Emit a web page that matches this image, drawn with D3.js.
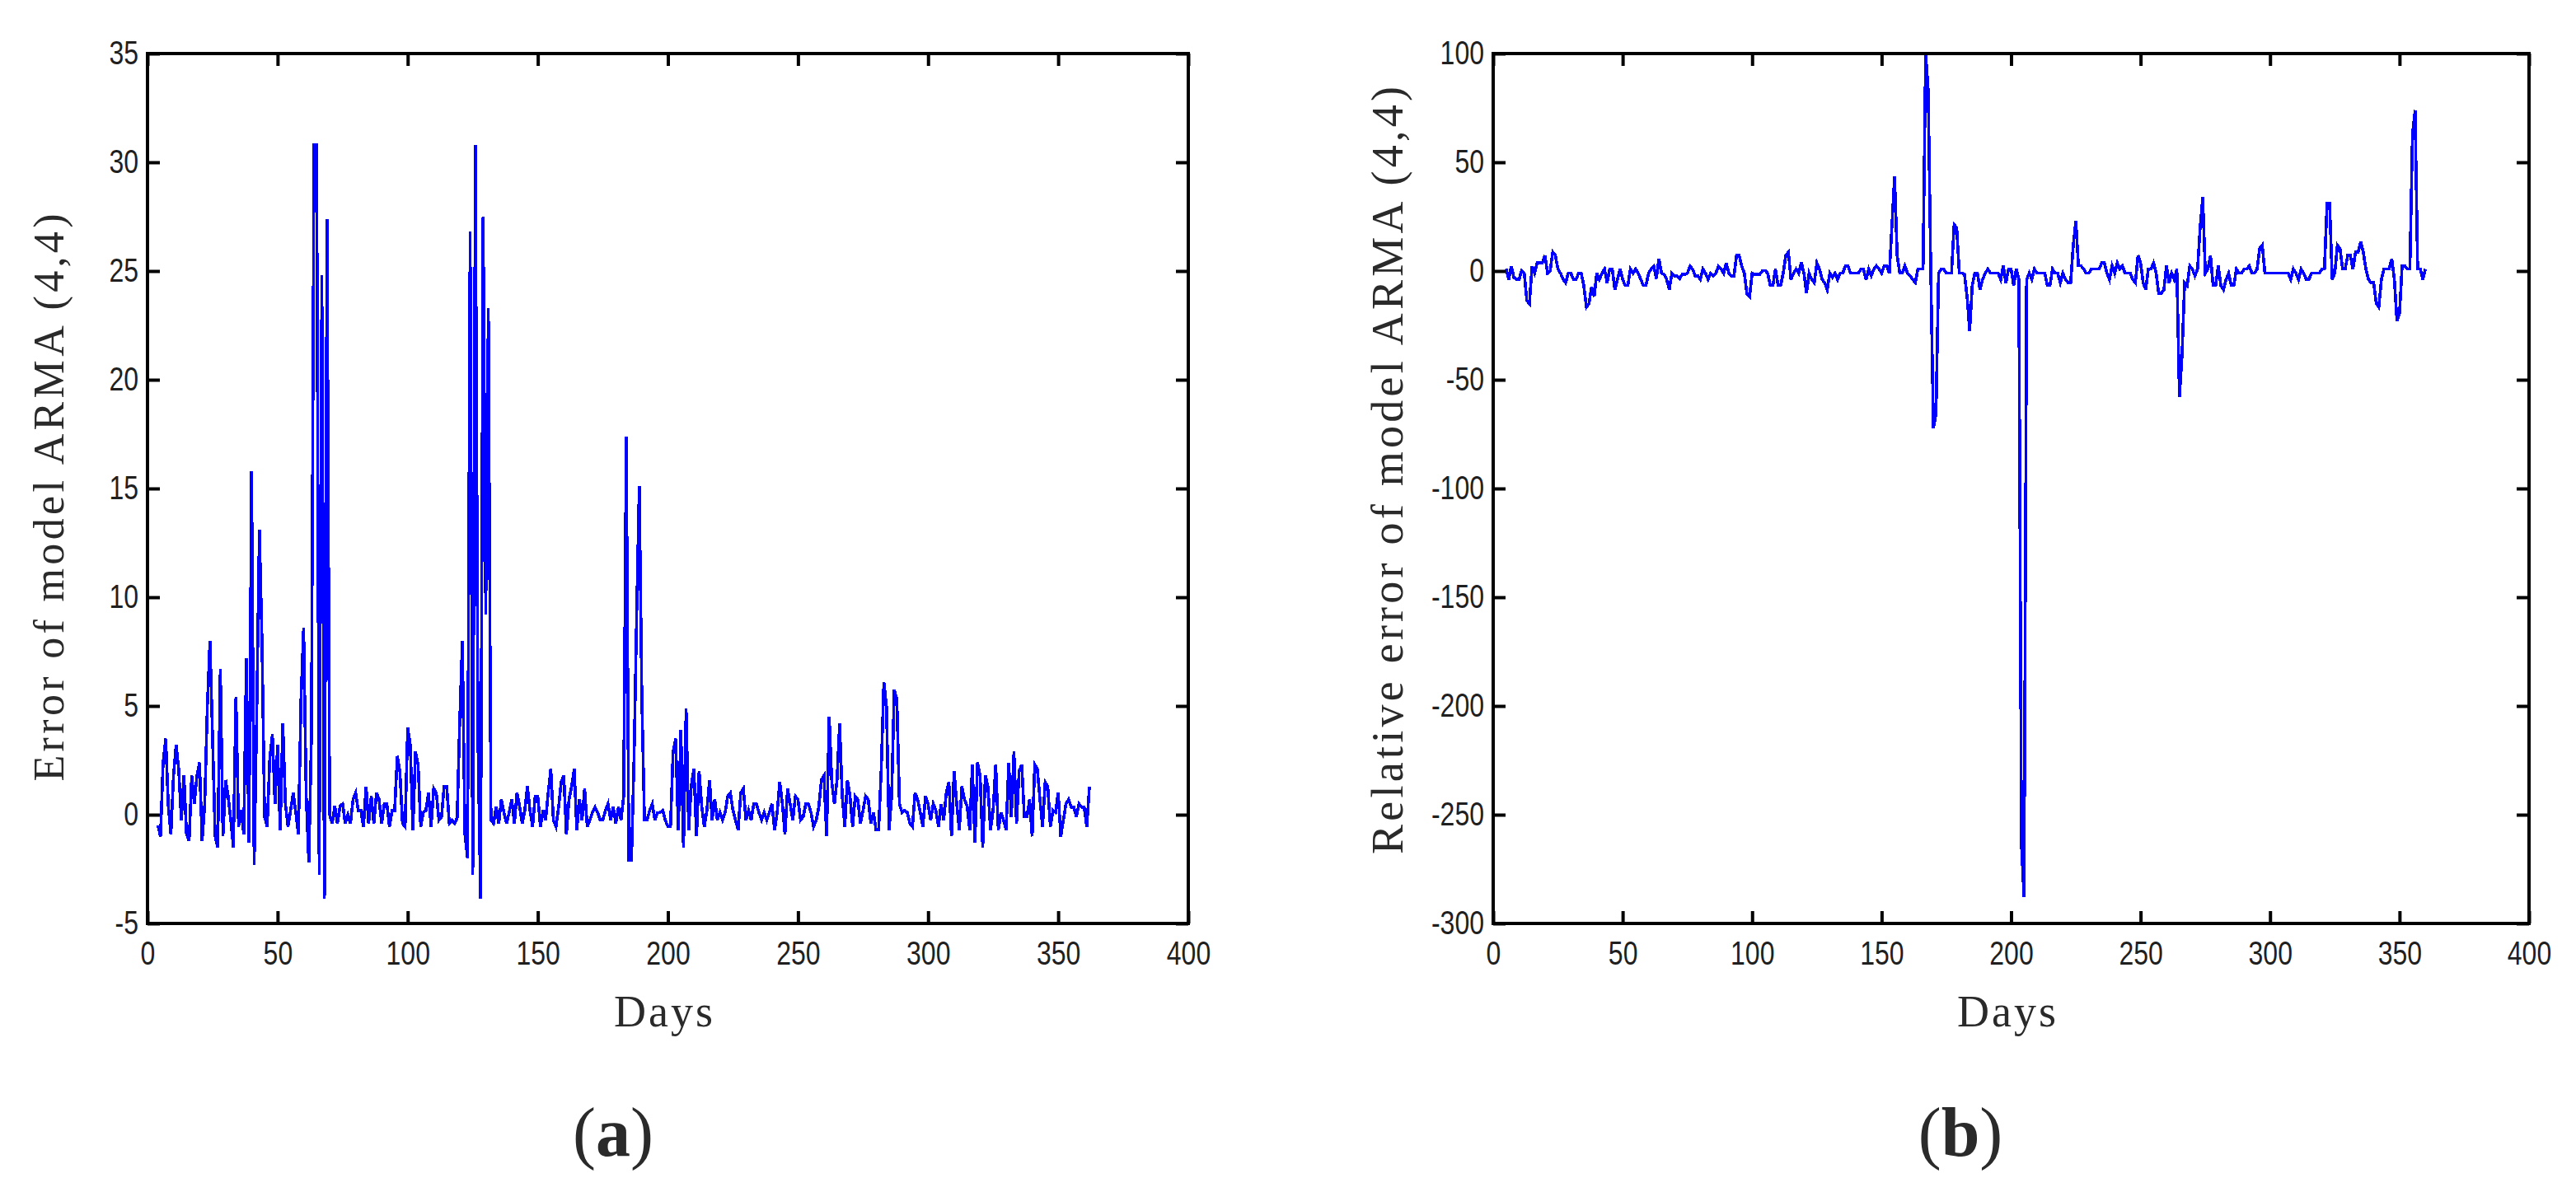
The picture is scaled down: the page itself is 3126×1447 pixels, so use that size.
<!DOCTYPE html>
<meta charset="utf-8">
<style>
  body { margin: 0; background: #fff; }
  svg { display: block; }
  .tick text { font-family: "Liberation Sans", Arial, sans-serif; font-size: 40px; fill: #1f1f1f; }
  .tick line { stroke: #000; stroke-width: 4; }
  .lbl { font-family: "Liberation Serif", "Times New Roman", serif; fill: #2a2a2a; }
</style>
<svg width="3126" height="1447"></svg>
<script src="https://d3js.org/d3.v7.min.js"></script>
<script>

// (a) error of model ARMA(4,4), one value per day starting at day 4
var errorStart = 4;
var errorValues = [
  -0.5, -1.0, 2.4, 3.5, 0.4, -0.9, 1.8, 3.2, 2.1, -0.25,
  1.8, -0.9, -1.2, 1.8, 0.5, 1.8, 2.4, -1.2, 0.5, 5.0,
  8.0, 3.6, -1.0, -1.5, 6.7, -1.0, 1.6, 0.85, -0.25, -1.5,
  5.4, -0.55, 0.2, -0.9, 7.2, -1.3, 15.8, -2.3, 4.8, 13.1,
  8.0, -0.1, -0.55, 2.6, 3.7, 0.5, 3.2, -0.7, 4.2, 0.5,
  -0.55, 0.2, 1.0, 0.1, -0.9, 5.3, 8.6, 0.85, -2.2, 3.6,
  30.8, 30.8, -2.75, 24.8, -3.85, 27.4, 0.0, -0.4, 0.4, -0.4,
  0.4, 0.5, -0.4, 0.0, -0.4, 0.7, 1.0, 0.2, 0.2, -0.55,
  1.3, -0.4, 0.85, -0.4, 1.0, 0.7, -0.4, 0.5, 0.5, -0.55,
  0.2, 0.2, 2.7, 2.0, -0.4, -0.55, 4.0, 3.2, -0.7, 2.9,
  2.3, -0.55, 0.1, 0.2, 1.0, -0.55, 1.2, 1.0, -0.25, -0.1,
  1.3, 1.3, -0.4, -0.25, -0.4, -0.15, 4.3, 8.0, -0.9, -2.0,
  26.8, -2.75, 30.8, 3.6, -3.85, 27.5, 9.2, 23.3, -0.25, -0.4,
  0.35, -0.4, 0.7, 0.1, -0.4, 0.1, 0.7, -0.4, 1.0, 0.4,
  -0.4, 0.2, 1.3, 0.2, -0.55, 0.85, 0.85, -0.55, 0.2, -0.25,
  1.0, 2.1, -0.25, -0.55, 0.35, 1.5, 1.8, -0.9, 0.7, 1.3,
  2.1, -0.7, 0.7, -0.25, 1.2, -0.55, -0.25, 0.1, 0.35, 0.1,
  -0.25, -0.25, 0.2, 0.5, -0.25, 0.35, -0.4, 0.35, -0.25, 0.85,
  17.4, -2.1, -2.1, 2.6, 9.2, 15.1, 5.3, -0.25, -0.25, 0.2,
  0.5, -0.25, 0.1, 0.1, 0.2, -0.25, -0.55, -0.55, 2.9, 3.5,
  -0.7, 3.9, -1.5, 4.9, -0.7, 1.35, 2.1, -1.0, 2.0, 0.4,
  -0.55, 0.2, 1.6, -0.25, 0.7, -0.25, 0.1, -0.25, 0.1, 0.85,
  1.0, 0.2, -0.25, -0.7, 1.0, 1.2, -0.25, 0.2, -0.25, 0.5,
  0.5, 0.1, -0.25, 0.1, -0.25, 0.1, 0.5, -0.7, 0.1, 1.5,
  0.5, -0.9, 1.2, 0.5, -0.25, 0.85, 0.7, -0.25, -0.1, 0.5,
  0.5, 0.1, -0.55, -0.25, 0.35, 1.6, 1.8, -1.0, 4.5, 1.5,
  0.5, 1.6, 4.2, 0.85, -0.55, 1.6, 0.85, -0.55, 0.85, 0.7,
  -0.4, 0.2, 0.85, 0.7, -0.4, 0.1, -0.7, -0.7, 2.1, 6.1,
  5.0, -0.7, 0.85, 5.75, 5.3, 0.5, 0.1, 0.2, 0.1, -0.4,
  -0.55, 1.0, 0.7, 0.1, -0.55, 0.85, 0.5, -0.25, 0.5, 0.2,
  -0.55, 0.5, -0.25, 1.0, 1.5, -1.0, 2.0, 0.5, -0.7, 1.3,
  0.7, 0.4, -0.7, 2.3, -1.3, 2.4, 1.8, -1.5, 1.8, 1.3,
  -0.7, 0.2, 2.3, -0.7, 0.1, -0.25, -0.7, 2.4, -0.1, 2.9,
  -0.4, 2.0, 2.3, -0.1, -0.1, 0.7, -1.0, 2.3, 2.1, 0.7,
  -0.55, 1.5, 1.3, -0.55, 0.2, 0.1, 1.0, -1.0, -0.25, 0.5,
  0.7, 0.35, 0.35, -0.1, 0.5, 0.35, 0.35, -0.55, 1.3
];

// (b) relative error of model ARMA(4,4), starting at day 5
var relStart = 5;
var relValues = [
  1.0, -3.9, 2.2, -3.0, -3.9, -3.9, 0.25, -1.0, -13.7, -15.0,
  2.2, -1.0, 3.7, 3.7, 3.7, 7.2, -1.0, 0, 8.7, 7.2,
  0.9, -1.0, -3.9, -5.4, -1.0, -1.0, -3.9, -3.9, -1.0, -1.0,
  -6.7, -16.6, -15.0, -7.3, -11.8, -1.0, -3.9, -1.0, 0.9, -5.4,
  0.9, 0.9, -8.6, -3.9, 0.9, -3.9, -6.7, -6.7, 0.9, -1.0,
  0.9, -1.0, -3.9, -6.7, -6.7, -1.0, 0.9, 2.2, -3.5, 5.6,
  -1.0, -1.6, -3.9, -8.6, -1.0, -2.2, -2.2, -3.5, -1.6, -1.6,
  -1.0, 2.2, 0.9, -2.2, -2.2, -3.9, 0.9, -1.0, -3.9, -1.0,
  -2.2, -1.0, 2.2, 0.9, -1.0, 3.7, -1.0, -2.2, -2.2, 7.2,
  7.2, 2.2, -1.0, -10.5, -11.8, -1.0, -1.5, -1.5, -1.5, 0.25,
  0.25, -1.0, -6.7, -6.7, 0.9, -6.7, -6.7, -1.0, 7.2, 8.7,
  -3.9, -1.0, 0.9, -1.0, 4.0, -1.0, -10.2, -1.0, -3.9, -5.4,
  3.7, 0.9, -3.9, -5.4, -8.6, -1.0, -3.0, -1.0, -3.9, -1.0,
  -1.0, 2.4, 2.4, -1.0, -1.0, -1.0, -1.0, 0.9, 0.9, -3.9,
  0.9, -2.2, 0.9, 2.4, 0.9, -1.0, 2.4, 2.4, -1.0, 21.4,
  43.7, 7.2, -1.0, -1.0, 2.4, -1.0, -2.2, -3.9, -5.4, 0.9,
  0.9, 0.9, 100, 83, -1.0, -72.3, -65.6, -1.0, 0.9, 0.9,
  -1.0, -1.0, -1.0, 21.4, 19.9, -1.0, -1.0, -1.5, -11.8, -27.6,
  -6.7, -1.0, -1.0, -8.6, -3.9, -1.0, 0.9, -1.0, -1.0, -1.0,
  -1.0, -3.9, 2.4, -5.4, 0.9, 0.9, -6.7, 0.9, -3.9, -264,
  -288, -3.9, -1.0, -3.9, 0.9, -1.0, -1.0, -1.0, -1.0, -6.7,
  -6.7, 0.9, -1.0, -1.0, -5.4, -1.0, -3.9, -5.4, -5.4, 11.9,
  23.0, 2.4, 2.4, 0.9, -1.0, -1.0, 0.9, 0.9, 0.9, 0.9,
  3.7, 3.7, -1.0, -3.9, 2.4, -1.0, 3.7, 0.9, 2.4, -1.0,
  -1.0, -1.0, -3.9, -5.4, 7.2, 3.7, -5.4, -8.6, 0.9, 0.9,
  3.7, -1.0, -10.2, -10.2, -8.6, 2.4, -5.4, -1.0, -3.9, 0.9,
  -58, -39, -5.4, -6.7, 2.4, 0.9, -2.2, 0.9, 19.9, 34,
  -1.0, 0.9, 7.2, -6.7, -6.7, 2.4, -6.7, -8.6, -3.9, -1.0,
  -6.7, -6.7, 0.9, -1.0, -1.0, 0.9, 0.9, 2.4, -1.0, -1.0,
  0.9, 10.4, 11.9, -1.0, -1.0, -1.0, -1.0, -1.0, -1.0, -1.0,
  -1.0, -1.0, -1.0, -3.9, 0.9, -1.0, -3.9, 0.9, -1.0, -3.9,
  -3.9, -1.0, -1.0, -1.0, -1.0, 0.9, 0.9, 31, 31, -3.9,
  -1.0, 11.9, 10.4, 0.9, 0.9, 7.2, 7.2, 0.9, 8.7, 8.7,
  13.5, 8.7, 0.9, -3.9, -5.4, -5.4, -15.0, -16.6, -3.9, 0.9,
  0.9, 0.9, 5.6, -3.9, -23, -19.4, 2.4, 2.4, 0.9, 0.9,
  62.7, 74, 0.9, 0.9, -3.9, 0.9
];

var dayTicks = [0, 50, 100, 150, 200, 250, 300, 350, 400];
var errorTicks = [-5, 0, 5, 10, 15, 20, 25, 30, 35];
var relTicks = [-300, -250, -200, -150, -100, -50, 0, 50, 100];

var svg = d3.select("svg");
svg.append("rect").attr("width", 3126).attr("height", 1447).attr("fill", "#fff");

var top_ = 65, bottom_ = 1121;

// squeeze the tick digits a little, like the original matlab export
function narrow(sel) {
  sel.selectAll(".tick text").each(function() {
    var s = this.textContent, w = 0;
    for (var i = 0; i < s.length; i++) w += (s[i] == "-" ? 0.333 : 0.556);
    d3.select(this).attr("textLength", w * 40 * 0.8).attr("lengthAdjust", "spacingAndGlyphs");
  });
}

function panel(opt) {
  var x = d3.scaleLinear().domain([0, 400]).range([opt.left, opt.right]);
  var y = d3.scaleLinear().domain([opt.yTicks[0], opt.yTicks[opt.yTicks.length - 1]]).range([bottom_, top_]);
  var g = svg.append("g");

  g.append("clipPath").attr("id", "clip" + opt.name).append("rect")
    .attr("x", opt.left).attr("y", top_)
    .attr("width", opt.right - opt.left).attr("height", bottom_ - top_);

  var line = d3.line()
    .x(function(d, i) { return x(opt.start + i); })
    .y(function(d) { return y(d); });

  g.append("path").datum(opt.values)
    .attr("clip-path", "url(#clip" + opt.name + ")")
    .attr("fill", "none")
    .attr("stroke", "#0000ff")
    .attr("stroke-width", 3.6)
    .attr("shape-rendering", "crispEdges")
    .attr("d", line);

  var noLabel = function() { return ""; };
  var plain = function(d) { return String(d); };

  var bx = g.append("g").attr("transform", "translate(0," + bottom_ + ")")
    .call(d3.axisBottom(x).tickValues(dayTicks).tickFormat(plain).tickSizeInner(-15).tickSizeOuter(0).tickPadding(22));
  var tx = g.append("g").attr("transform", "translate(0," + top_ + ")")
    .call(d3.axisTop(x).tickValues(dayTicks).tickFormat(noLabel).tickSizeInner(-15).tickSizeOuter(0));
  var ly = g.append("g").attr("transform", "translate(" + opt.left + ",0)")
    .call(d3.axisLeft(y).tickValues(opt.yTicks).tickFormat(plain).tickSizeInner(-15).tickSizeOuter(0).tickPadding(11));
  var ry = g.append("g").attr("transform", "translate(" + opt.right + ",0)")
    .call(d3.axisRight(y).tickValues(opt.yTicks).tickFormat(noLabel).tickSizeInner(-15).tickSizeOuter(0));

  [bx, tx, ly, ry].forEach(function(a) { a.select(".domain").remove(); });
  narrow(bx); narrow(ly);

  g.append("rect")
    .attr("x", opt.left).attr("y", top_)
    .attr("width", opt.right - opt.left).attr("height", bottom_ - top_)
    .attr("fill", "none").attr("stroke", "#000").attr("stroke-width", 4);

  g.append("text").attr("class", "lbl")
    .attr("x", (opt.left + opt.right) / 2 - 4).attr("y", 1246)
    .attr("text-anchor", "middle").attr("font-size", 54).attr("letter-spacing", 3)
    .text("Days");

  g.append("text").attr("class", "lbl")
    .attr("transform", "translate(" + opt.ylabX + "," + opt.ylabY + ") rotate(-90)")
    .attr("text-anchor", "middle").attr("font-size", opt.ylabSize)
    .attr("textLength", opt.ylabLen).attr("lengthAdjust", "spacing")
    .text(opt.ylabel);

  var cap = g.append("text").attr("class", "lbl")
    .attr("x", opt.capX).attr("y", 1403)
    .attr("text-anchor", "middle").attr("font-size", 84).attr("fill", "#000");
  cap.append("tspan").text("(");
  cap.append("tspan").attr("font-weight", "bold").text(opt.cap);
  cap.append("tspan").text(")");
}

panel({
  name: "a", left: 179, right: 1442,
  start: errorStart, values: errorValues, yTicks: errorTicks,
  ylabel: "Error of model ARMA (4,4)", ylabX: 77, ylabY: 604, ylabSize: 52, ylabLen: 689,
  cap: "a", capX: 744
});

panel({
  name: "b", left: 1812, right: 3069,
  start: relStart, values: relValues, yTicks: relTicks,
  ylabel: "Relative error of model ARMA (4,4)", ylabX: 1702, ylabY: 571, ylabSize: 54, ylabLen: 932,
  cap: "b", capX: 2379
});

</script>
